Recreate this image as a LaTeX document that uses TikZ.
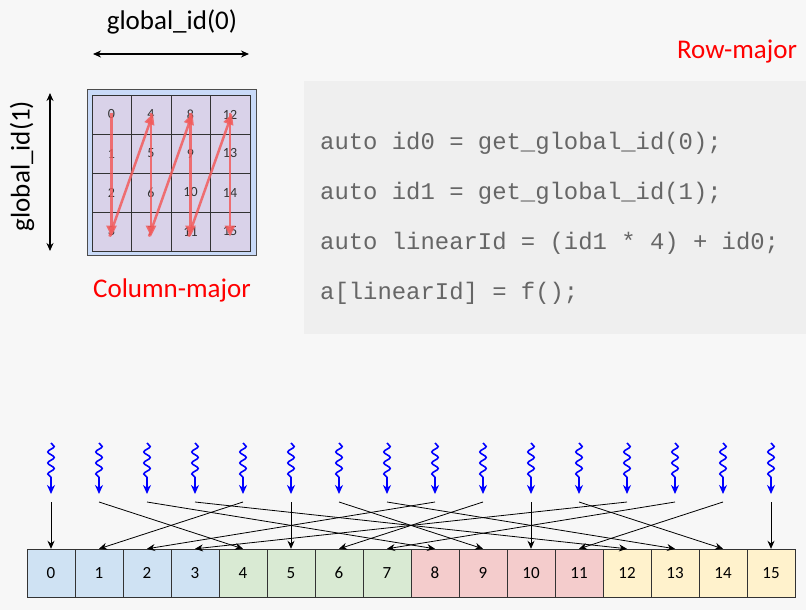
\documentclass[tikz,border=0pt]{standalone}
\usepackage{fontspec}
\setmainfont{Carlito}
\setmonofont{Liberation Mono}
\usetikzlibrary{arrows.meta,decorations.pathmorphing,positioning}

\definecolor{fondo}{HTML}{F7F7F7}
\definecolor{fondocod}{HTML}{EFEFEF}
\definecolor{marco}{HTML}{C9DAF8}
\definecolor{lila}{HTML}{D9D2E9}
\definecolor{rojoz}{HTML}{F25C5C}
\definecolor{cellblue}{HTML}{CFE2F3}
\definecolor{cellgreen}{HTML}{D9EAD3}
\definecolor{cellred}{HTML}{F4CCCC}
\definecolor{cellyellow}{HTML}{FFF2CC}

\tikzset{
  gcell/.style={draw=black!80,fill=lila,minimum width=39.5pt,minimum height=39pt,
    inner sep=0pt,text=black!80,font=\fontsize{14}{14}\selectfont},
  cell/.style={draw=black!80,minimum size=48pt,inner sep=0pt,
    font=\fontsize{17}{17}\selectfont},
  zig/.style={draw=rojoz,opacity=0.85,line width=2.5pt,
    -{Triangle[length=11pt,width=10pt]}},
  thread/.style={blue,line width=1.6pt,-{Stealth[length=9pt,width=8pt]},
    decorate,decoration={snake,amplitude=3.2pt,segment length=11pt,post length=12pt}},
  link/.style={black,line width=0.8pt,-{Stealth[length=8pt,width=7pt]}},
  etiq/.style={font=\fontsize{27}{27}\selectfont},
  codigo/.style={anchor=base west,inner sep=0pt,text=black!60,
    font=\ttfamily\fontsize{23.9}{24}\selectfont}
}

\begin{document}
\begin{tikzpicture}[x=1pt,y=-1pt]
  \useasboundingbox[fill=fondo] (0,0) rectangle (806,610);
  % Rejilla 4x4
  \fill[marco,draw=black!70] (87,89) rectangle (256,255);
  \foreach \c in {0,...,3}
    \foreach \r in {0,...,3}{
      \pgfmathtruncatemacro\n{4*\c+\r}
      \node[gcell] (g\n) at (111.5+39.5*\c,114.5+39*\r) {\n};
    }
  % Flechas rojas
  \foreach \c in {0,...,3}{
    \pgfmathtruncatemacro\top{4*\c}
    \pgfmathtruncatemacro\bot{4*\c+3}
    \draw[zig] ([yshift=2pt]g\top.center) -- ([yshift=-5pt]g\bot.center);
  }
  \foreach \c in {0,1,2}{
    \pgfmathtruncatemacro\bot{4*\c+3}
    \pgfmathtruncatemacro\next{4*\c+4}
    \draw[zig] ([xshift=-2pt,yshift=-5pt]g\bot.center) -- ([xshift=2pt,yshift=1pt]g\next.center);
  }
  % Ejes
  \node[etiq] (gid0) at (172,22) {global\_id(0)};
  \node[etiq,rotate=90] (gid1) at (22,166) {global\_id(1)};
  \coordinate (x0) at (93,54);
  \coordinate (x1) at (249,54);
  \coordinate (y0) at (50,93);
  \coordinate (y1) at (50,251);
  \draw[line width=1.5pt,{Stealth[length=8pt,width=7pt]}-{Stealth[length=8pt,width=7pt]}] (x0) -- (x1);
  \draw[line width=1.5pt,{Stealth[length=8pt,width=7pt]}-{Stealth[length=8pt,width=7pt]}] (y0) -- (y1);
  \node[etiq,red] (colmaj) at (172,290) {Column-major};
  \node[etiq,red] (rowmaj) at (737,52) {Row-major};
  % Codigo
  \fill[fondocod] (304,81) rectangle (806,334);
  \node[codigo] (l1) at (320,149) {auto id0 = get\_global\_id(0);};
  \node[codigo] (l2) at (320,199) {auto id1 = get\_global\_id(1);};
  \node[codigo] (l3) at (320,249) {auto linearId = (id1 * 4) + id0;};
  \node[codigo] (l4) at (320,299) {a[linearId] = f();};
  % Celdas del arreglo
  \foreach \g/\col in {0/cellblue,1/cellgreen,2/cellred,3/cellyellow}
    \foreach \k in {0,...,3}{
      \pgfmathtruncatemacro\i{4*\g+\k}
      \node[cell,fill=\col] (c\i) at (51+48*\i,573) {\i};
    }
  % Hilos y enlaces
  \foreach \i in {0,...,15}{
    \coordinate (w\i) at (51+48*\i,443);
    \coordinate (h\i) at (51+48*\i,494);
    \coordinate (t\i) at (51+48*\i,502);
    \draw[thread] (w\i) -- (h\i);
    \pgfmathtruncatemacro\j{mod(\i,4)*4+int(\i/4)}
    \draw[link] (t\i) -- (c\j.north);
  }
\end{tikzpicture}
\end{document}
